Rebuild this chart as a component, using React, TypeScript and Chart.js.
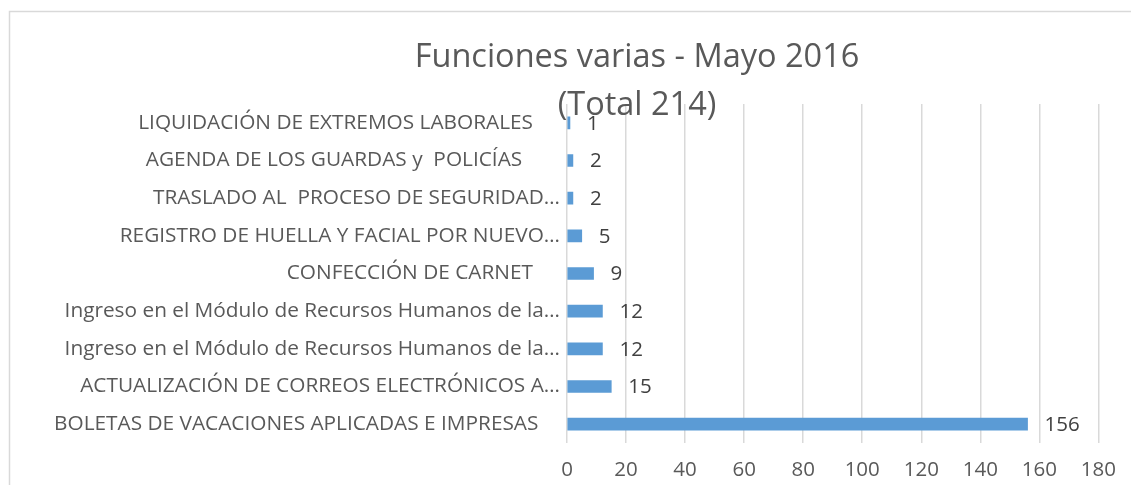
import React, { useEffect, useRef } from "react";
import { Chart, registerables } from "chart.js";

Chart.register(...registerables);

const categories = [
  "LIQUIDACIÓN DE EXTREMOS LABORALES     ",
  "AGENDA DE LOS GUARDAS y  POLICÍAS       ",
  "TRASLADO AL  PROCESO DE SEGURIDAD…",
  "REGISTRO DE HUELLA Y FACIAL POR NUEVO…",
  "CONFECCIÓN DE CARNET     ",
  "Ingreso en el Módulo de Recursos Humanos de la…",
  "Ingreso en el Módulo de Recursos Humanos de la…",
  "ACTUALIZACIÓN DE CORREOS ELECTRÓNICOS A…",
  "BOLETAS DE VACACIONES APLICADAS E IMPRESAS    ",
];
const values = [1, 2, 2, 5, 9, 12, 12, 15, 156];
const titleLines = ["Funciones varias - Mayo 2016", "(Total 214)"];
const xMin = 0;
const xMax = 180;
const xStep = 20;

const FONT = "'Open Sans'";

export default function App() {
  const ref = useRef<HTMLCanvasElement | null>(null);

  useEffect(() => {
    if (!ref.current) return;

    const borderPlugin = {
      id: "borderPlugin",
      beforeDraw(chart: any) {
        const ctx = chart.ctx;
        ctx.save();
        ctx.fillStyle = "#ffffff";
        ctx.fillRect(0, 0, chart.width, chart.height);
        ctx.strokeStyle = "#d9d9d9";
        ctx.lineWidth = 1.5;
        ctx.beginPath();
        ctx.moveTo(9.5, chart.height + 2);
        ctx.lineTo(9.5, 11.5);
        ctx.lineTo(chart.width + 2, 11.5);
        ctx.stroke();
        ctx.restore();
      },
    };

    const titlePlugin = {
      id: "titlePlugin",
      afterDraw(chart: any) {
        const ctx = chart.ctx;
        ctx.save();
        ctx.fillStyle = "#595959";
        ctx.font = `32.5px ${FONT}`;
        ctx.textAlign = "center";
        ctx.textBaseline = "alphabetic";
        ctx.fillText(titleLines[0], 637, 67);
        ctx.fillText(titleLines[1], 637, 115);
        ctx.restore();
      },
    };

    const labelPlugin = {
      id: "labelPlugin",
      afterDatasetsDraw(chart: any) {
        const ctx = chart.ctx;
        const meta = chart.getDatasetMeta(0);
        ctx.save();
        ctx.fillStyle = "#404040";
        ctx.font = `20.5px ${FONT}`;
        ctx.textAlign = "left";
        ctx.textBaseline = "middle";
        meta.data.forEach((bar: any, i: number) => {
          ctx.fillText(String(values[i]), bar.x + 17, bar.y + 1);
        });
        ctx.restore();
      },
    };

    const chart = new Chart(ref.current, {
      type: "bar",
      data: {
        labels: categories,
        datasets: [
          {
            data: values,
            backgroundColor: "#5B9BD5",
            borderWidth: 0,
            barThickness: 12,
          },
        ],
      },
      options: {
        indexAxis: "y",
        responsive: false,
        animation: false,
        layout: { padding: { top: 104, right: 29, bottom: 0, left: 0 } },
        plugins: {
          legend: { display: false },
          title: { display: false },
          tooltip: { enabled: false },
        },
        scales: {
          x: {
            min: xMin,
            max: xMax,
            ticks: {
              stepSize: xStep,
              color: "#595959",
              font: { family: FONT, size: 20.5 },
              padding: 15,
            },
            grid: { color: "#d9d9d9", lineWidth: 1.5, drawTicks: false },
            border: { display: false },
            afterFit(s: any) {
              s.height = 42;
            },
          },
          y: {
            ticks: {
              color: "#595959",
              font: { family: FONT, size: 20.8 },
              padding: 7,
              autoSkip: false,
            },
            grid: { display: false, drawTicks: false },
            border: { display: false },
            afterFit(s: any) {
              s.width = 567;
            },
          },
        },
      },
      plugins: [borderPlugin, titlePlugin, labelPlugin],
    } as any);

    return () => chart.destroy();
  }, []);

  return (
    <div style={{ position: "absolute", left: 0, top: 0, width: 1131, height: 485, background: "#fff" }}>
      <canvas ref={ref} width={1131} height={485} style={{ display: "block" }} />
    </div>
  );
}
